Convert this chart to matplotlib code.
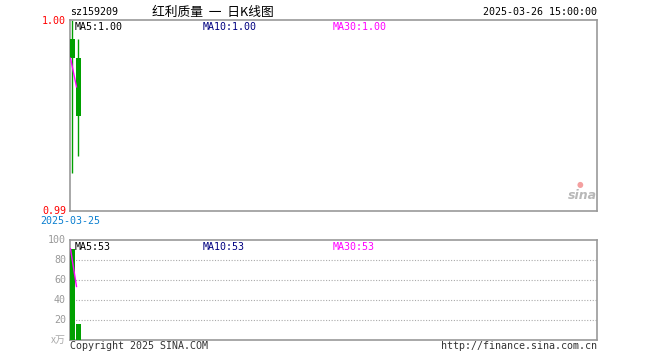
import matplotlib
matplotlib.use("Agg")
import matplotlib.pyplot as plt
import numpy as np

plt.rcParams['font.family'] = ['DejaVu Sans Mono', 'Noto Sans CJK SC']

dates = ["2025-03-25", "2025-03-26"]
opens = [0.999, 0.998]
closes = [0.998, 0.995]
highs = [1.000, 0.999]
lows = [0.992, 0.9929]
volumes = [91, 16]

code = "sz159209"
title = "红利质量  一  日K线图"
timestamp = "2025-03-26 15:00:00"
price_ticks = ["1.00", "0.99"]
vol_ticks = [100, 80, 60, 40, 20]

W, H = 660, 360
fig = plt.figure(figsize=(W / 100, H / 100), dpi=100)

def ax_rect(l, t, r, b):
    return [l / W, 1 - b / H, (r - l) / W, (b - t) / H]

green = "#00a000"
grey = "#999999"
magenta = "#ff00ff"

ax = fig.add_axes(ax_rect(70, 20, 597, 211))
axv = fig.add_axes(ax_rect(70, 240, 597, 340))

x = np.arange(len(opens))
step_units = 527 / 6.0
xmin = -2.3 / 6.0
for a in (ax, axv):
    a.set_xlim(xmin, xmin + step_units)
    a.set_xticks([])
    a.set_yticks([])
    for s in a.spines.values():
        s.set_color(grey)
        s.set_linewidth(1.2)

ax.set_ylim(0.99, 1.00)
axv.set_ylim(0, 100)

# candles
bw = 5 / 6.0
for i in x:
    ax.vlines(i, lows[i], highs[i], color=green, lw=1.0, zorder=2)
    lo, hi = min(opens[i], closes[i]), max(opens[i], closes[i])
    ax.bar(i, hi - lo, bottom=lo, width=bw, color=green, zorder=3, linewidth=0)

# moving averages of closes
def ma(vals, n):
    return [np.mean(vals[max(0, k - n + 1):k + 1]) for k in range(len(vals))]

ma5 = ma(closes, 5)
ma10 = ma(closes, 10)
ma30 = ma(closes, 30)
ax.plot(x - 0.3, ma30, color=magenta, lw=1.0, zorder=4)

# volume
axv.bar(x, volumes, width=bw, color=green, linewidth=0, zorder=3)
vma = ma(volumes, 5)
axv.plot(x - 0.3, vma, color=magenta, lw=1.0, zorder=4)
for v in vol_ticks[1:]:
    axv.axhline(v, color="#aaaaaa", lw=0.8, ls=(0, (1, 1.5)), zorder=1)

fs = 7.2
# header
fig.text(70 / W, 1 - 12 / H, code, fontsize=fs, va="center", ha="left", color="#000000")
fig.text(213 / W, 1 - 12 / H, title, fontsize=9.2, va="center", ha="center",
         family=['Noto Sans CJK SC', 'DejaVu Sans'])
fig.text(597 / W, 1 - 12 / H, timestamp, fontsize=fs, va="center", ha="right")

# price labels
fig.text(66 / W, 1 - 21 / H, price_ticks[0], fontsize=fs, va="center", ha="right", color="#ff0000")
fig.text(66 / W, 1 - 211 / H, price_ticks[1], fontsize=fs, va="center", ha="right", color="#ff0000")
fig.text(70 / W, 1 - 221 / H, dates[0], fontsize=fs, va="center", ha="center", color="#0a7fd0")

# MA labels
fig.text(75 / W, 1 - 27 / H, "MA5:%.2f" % ma5[-1], fontsize=fs, va="center", ha="left", color="#000000")
fig.text(203 / W, 1 - 27 / H, "MA10:%.2f" % ma10[-1], fontsize=fs, va="center", ha="left", color="#000080")
fig.text(333 / W, 1 - 27 / H, "MA30:%.2f" % ma30[-1], fontsize=fs, va="center", ha="left", color=magenta)

fig.text(75 / W, 1 - 247 / H, "MA5:%d" % int(vma[-1]), fontsize=fs, va="center", ha="left", color="#000000")
fig.text(203 / W, 1 - 247 / H, "MA10:%d" % int(vma[-1]), fontsize=fs, va="center", ha="left", color="#000080")
fig.text(333 / W, 1 - 247 / H, "MA30:%d" % int(vma[-1]), fontsize=fs, va="center", ha="left", color=magenta)

# volume tick labels
for v in vol_ticks:
    yy = 240 + (100 - v)
    fig.text(66 / W, 1 - yy / H, str(v), fontsize=fs, va="center", ha="right", color="#999999")
fig.text(66 / W, 1 - 340 / H, "x万", fontsize=fs, va="center", ha="right", color="#aaaaaa",
         family=['Noto Sans CJK SC', 'DejaVu Sans'])

# footer
fig.text(70 / W, 1 - 346 / H, "Copyright 2025 SINA.COM", fontsize=fs, va="center", ha="left", color="#333333")
fig.text(597 / W, 1 - 346 / H, "http://finance.sina.com.cn", fontsize=fs, va="center", ha="right", color="#333333")

# sina watermark
fig.text(597 / W, 1 - 196 / H, "sina", fontsize=9, va="center", ha="right", color="#b8b8b8",
         style="italic", weight="bold", family="DejaVu Sans")
fig.text(580 / W, 1 - 184 / H, "●", fontsize=5.5, va="center", ha="center", color="#f4a0a0",
         family="DejaVu Sans")

fig.savefig("out.png", dpi=100)
